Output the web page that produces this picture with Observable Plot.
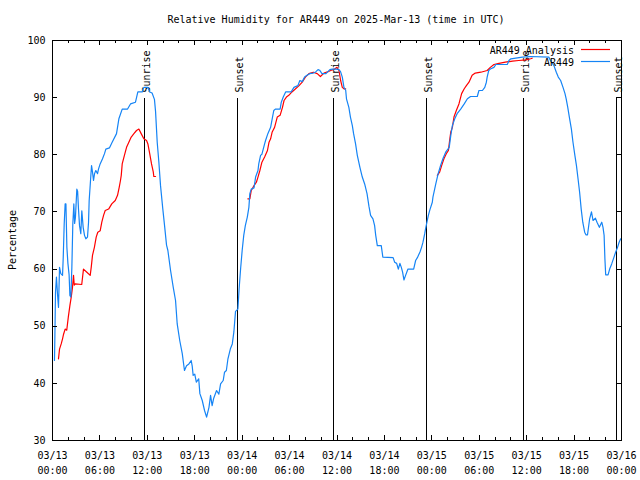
<!DOCTYPE html>
<html><head><meta charset="utf-8">
<script src="https://cdn.jsdelivr.net/npm/d3@7"></script>
<script src="https://cdn.jsdelivr.net/npm/@observablehq/plot@0.6"></script>
<style>body{margin:0;background:#fff} svg{display:block}</style>
</head><body><div id="chart"></div>
<script>
const title = "Relative Humidity for AR449 on 2025-Mar-13 (time in UTC)";
const yLabel = "Percentage";
const startUTC = "2025-03-13T00:00:00Z";
const endUTC = "2025-03-16T00:00:00Z";
const yTicks = [30, 40, 50, 60, 70, 80, 90, 100];
const seriesNames = ["AR449 Analysis", "AR449"];

// Observed AR449 (hours since 2025-03-13 00:00 UTC, %)
const obsHours = [0.25,0.3,0.38,0.5,0.63,0.76,0.89,1.05,1.27,1.36,1.48,1.6,1.7,1.82,1.95,2.1,2.2,2.32,2.45,2.57,2.7,2.8,2.9,3.08,3.18,3.29,3.42,3.58,3.71,3.88,4.05,4.22,4.43,4.56,4.64,4.81,4.94,5.06,5.19,5.32,5.48,5.7,5.82,6.03,6.33,6.58,6.75,7.2,7.55,8.1,8.4,8.82,9.5,9.87,10.5,10.8,11.35,11.56,12.07,12.3,12.6,12.9,13.04,13.25,13.46,13.67,13.96,14.18,14.43,14.6,14.94,15.28,15.57,15.78,16.1,16.42,16.7,16.96,17.26,17.55,17.68,17.8,18.0,18.2,18.5,18.65,18.95,19.24,19.5,19.8,20.0,20.2,20.4,20.76,21.05,21.27,21.6,21.77,22.0,22.2,22.5,22.75,22.95,23.16,23.46,23.6,23.8,24.0,24.2,24.4,24.65,24.85,24.97,25.15,25.5,25.7,26.0,26.1,26.33,26.5,26.84,26.96,27.25,27.6,27.8,28.0,28.2,28.8,28.95,29.2,29.5,30.2,30.55,31.05,31.3,31.6,31.9,32.2,32.55,33.0,33.3,33.6,33.8,34.1,34.6,35.1,35.4,35.95,36.25,36.46,36.67,36.88,37.1,37.2,37.5,37.7,37.94,38.1,38.35,38.57,38.9,39.2,39.5,39.8,40.04,40.25,40.55,40.76,40.9,41.1,41.6,41.8,43.1,43.3,43.55,43.76,43.96,44.14,44.3,44.47,44.68,44.98,45.7,45.95,46.17,46.5,46.7,46.88,47.1,47.2,47.38,47.56,47.76,48.06,48.14,48.5,48.8,49.1,49.4,49.75,50.2,50.4,50.6,50.9,51.2,51.65,52.1,52.5,52.9,53.75,53.96,54.4,54.7,54.9,55.0,55.2,55.4,55.86,56.1,57.55,57.76,58.0,59.45,60.5,62.8,63.0,63.45,63.75,64.0,64.3,64.6,64.85,65.0,65.2,65.4,65.66,65.86,66.1,66.3,66.5,66.7,66.9,67.1,67.34,67.5,67.7,67.97,68.2,68.4,68.7,68.9,69.2,69.5,69.66,69.8,69.9,70.0,70.3,70.5,70.76,71.05,71.27,71.5,71.7,71.9];
const obsValues = [44.0,48.1,55.9,58.6,55.7,53.3,60.3,59.2,58.9,62.1,67.9,71.4,71.4,63.8,61.0,59.0,55.4,55.1,60.3,67.9,71.4,68.0,69.0,74.0,73.6,70.5,67.6,66.2,70.2,67.3,65.9,65.3,65.6,68.2,72.0,75.5,78.1,77.0,75.5,76.7,77.25,76.7,77.5,78.4,79.3,80.2,81.0,81.2,82.2,83.7,86.3,88.0,88.0,88.9,89.2,91.0,91.0,91.8,91.8,91.0,90.8,89.7,87.6,82.2,78.7,74.6,70.5,67.6,64.2,63.25,59.75,56.8,54.5,50.4,47.5,45.2,42.25,43.1,43.4,44.0,43.0,41.4,41.6,40.2,40.8,38.2,37.0,35.25,34.1,35.8,37.9,36.1,37.4,38.75,38.1,39.9,40.5,41.95,42.25,44.3,46.0,46.9,49.0,52.6,53.0,56.25,60.0,63.25,65.9,67.6,69.1,70.8,73.2,74.0,74.2,76.1,77.25,78.4,79.9,80.1,81.9,82.5,83.7,84.8,86.3,87.75,88.0,88.0,89.2,90.1,91.0,91.0,91.8,92.1,93.0,92.8,93.6,93.9,94.2,94.3,94.5,94.9,94.8,94.2,94.2,94.9,95.0,95.0,94.9,94.5,93.6,91.8,91.3,89.8,88.3,86.6,85.1,83.7,81.9,79.9,77.8,76.1,74.9,73.2,71.0,69.4,68.8,67.6,65.9,64.1,64.1,62.1,62.0,61.2,61.0,60.0,61.0,60.3,59.45,58.1,58.9,60.0,60.0,61.5,62.0,63.0,63.8,64.7,66.2,67.0,68.2,69.4,70.4,71.7,72.6,74.9,76.7,78.1,79.3,80.45,81.3,83.4,85.1,86.3,87.2,88.0,88.9,89.8,90.2,90.2,91.25,91.25,91.8,92.7,93.6,94.75,95.0,95.3,95.8,95.8,96.5,96.8,97.1,97.2,97.1,96.5,95.6,94.45,93.6,93.0,91.8,90.7,89.8,88.3,86.6,84.5,82.2,79.9,78.1,75.8,73.45,70.5,68.2,66.45,66.0,66.0,68.8,70.0,68.5,68.9,68.2,67.3,68.2,67.3,65.9,61.8,59.0,59.0,60.0,60.9,62.1,63.0,63.8,64.7,65.3];

// AR449 Analysis (null = gap between runs)
const anaHours = [0.76,0.89,1.1,1.27,1.4,1.6,1.8,2.0,2.2,2.37,2.53,2.66,2.75,2.87,3.7,3.92,4.35,4.77,4.9,5.06,5.3,5.53,5.73,6.03,6.24,6.46,6.67,7.1,7.5,7.94,8.23,8.44,8.6,8.7,8.82,9.1,9.37,9.66,9.96,10.3,10.63,10.93,11.22,11.56,11.9,12.07,12.3,12.53,12.75,12.82,13.04,null,
  24.72,24.97,25.15,25.5,25.8,26.0,26.24,26.5,26.84,27.2,27.4,27.6,27.8,28.1,28.44,28.8,29.1,29.3,29.6,29.9,30.3,30.76,31.2,31.6,32.0,32.45,33.0,33.5,33.9,34.35,34.8,35.2,35.7,36.0,36.25,36.46,36.67,36.88,37.1,null,
  48.7,49.0,49.24,49.53,49.83,50.1,50.25,50.4,50.6,50.8,51.1,51.43,51.77,52.1,52.37,52.7,53.1,53.5,54.2,55.0,55.4,55.86,56.5,57.3,58.2,59.0,59.9,60.5,60.7];
const anaValues = [44.3,46.0,46.9,47.8,48.6,49.5,49.3,51.6,53.6,55.1,56.8,58.9,57.2,57.4,57.3,60.0,59.45,58.9,60.3,62.4,63.8,65.6,66.45,66.7,68.2,69.4,70.25,70.5,71.4,72.0,72.9,74.3,75.5,76.4,78.4,79.9,81.3,82.2,83.1,83.7,84.25,84.5,83.7,82.8,82.5,81.9,80.2,78.4,77.0,76.2,76.2,null,
  72.3,72.3,73.75,74.6,75.2,76.1,77.25,78.7,79.6,80.75,82.2,82.8,84.0,84.8,86.6,86.9,88.3,89.5,90.1,90.4,91.0,91.55,92.1,92.7,93.6,94.2,94.45,94.2,93.7,94.3,94.5,94.75,95.0,95.3,94.75,93.0,91.8,91.55,91.55,null,
  76.4,77.0,78.1,79.3,80.2,80.75,82.5,84.0,84.8,86.6,87.75,88.9,90.7,91.55,92.1,92.7,93.9,94.3,94.45,94.75,95.3,95.8,96.0,96.2,96.4,96.5,96.6,96.8,96.9];

const sunriseHours = [11.68, 35.6, 59.66];
const sunsetHours = [23.46, 47.38, 71.43];

const FONT = "DejaVu Sans Mono";
const RED = "#ff0000", BLUE = "#1584f5";

const t0 = Date.parse(startUTC);
const toDate = h => (h == null ? null : new Date(t0 + h * 3600e3));
const obs = obsHours.map((h, i) => ({t: toDate(h), v: obsValues[i]}));
const ana = anaHours.map((h, i) => ({t: toDate(h), v: anaValues[i]}));
const events = [
  ...sunriseHours.map(h => ({t: toDate(h), label: "Sunrise"})),
  ...sunsetHours.map(h => ({t: toDate(h), label: "Sunset"}))
];
const majorTicks = d3.utcHour.every(6).range(new Date(startUTC), new Date(Date.parse(endUTC) + 1));
const minorTicks = d3.utcHour.every(2).range(new Date(startUTC), new Date(Date.parse(endUTC) + 1))
  .filter(d => d.getUTCHours() % 6 !== 0);
const fmt = d => d3.utcFormat("%m/%d")(d) + "\n" + d3.utcFormat("%H:%M")(d);

const plot = Plot.plot({
  width: 640, height: 480,
  marginLeft: 52, marginRight: 19, marginTop: 40, marginBottom: 40,
  style: {fontFamily: FONT, fontSize: "10px", color: "#000", background: "#fff", overflow: "visible"},
  x: {type: "utc", domain: [new Date(startUTC), new Date(endUTC)]},
  y: {domain: [30, 100]},
  marks: [
    Plot.ruleX(events, {x: "t", y1: 30, y2: 89.8, stroke: "#000", strokeWidth: 1, shapeRendering: "crispEdges"}),
    Plot.text(events, {x: "t", y: 90.9, text: "label", rotate: -90, textAnchor: "start", lineAnchor: "middle", dx: 2, fill: "#000", fontSize: 10}),
    Plot.line(ana, {x: "t", y: "v", stroke: RED, strokeWidth: 1.2}),
    Plot.line(obs, {x: "t", y: "v", stroke: BLUE, strokeWidth: 1.2}),
    Plot.frame({stroke: "#000", strokeWidth: 1, shapeRendering: "crispEdges"}),
    Plot.axisY({ticks: yTicks, anchor: "left", tickSize: 0, tickPadding: 7, label: null, fontSize: 10}),
    Plot.axisX({ticks: majorTicks, anchor: "bottom", tickSize: 0, tickPadding: 8, tickFormat: fmt, lineHeight: 1.5, label: null, fontSize: 10})
  ]
});

const svg = d3.select(plot);
const xs = plot.scale("x"), ys = plot.scale("y");
const L = 52, R = 621, T = 40, B = 440;
const g = svg.append("g").attr("stroke", "#000").attr("stroke-width", 1).attr("shape-rendering", "crispEdges");
function tick(x1, y1, x2, y2) { g.append("line").attr("x1", x1).attr("y1", y1).attr("x2", x2).attr("y2", y2); }
majorTicks.forEach(d => { const x = Math.round(xs.apply(d)) + 0.5; tick(x, B, x, B - 5); tick(x, T, x, T + 5); });
minorTicks.forEach(d => { const x = Math.round(xs.apply(d)) + 0.5; tick(x, B, x, B - 3); tick(x, T, x, T + 3); });
yTicks.forEach(v => { const y = Math.round(ys.apply(v)) + 0.5; tick(L, y, L + 5, y); tick(R, y, R - 5, y); });

// title and y label
svg.append("text").attr("x", 336).attr("y", 23).attr("text-anchor", "middle")
  .attr("font-family", FONT).attr("font-size", 10).attr("fill", "#000").text(title);
svg.append("text").attr("transform", "translate(12,240) rotate(-90)").attr("text-anchor", "middle")
  .attr("dominant-baseline", "central").attr("font-family", FONT).attr("font-size", 10).attr("fill", "#000").text(yLabel);

// legend
const legend = svg.append("g").attr("font-family", FONT).attr("font-size", 10);
[[seriesNames[0], RED, 50], [seriesNames[1], BLUE, 62]].forEach(([name, color, y]) => {
  legend.append("text").attr("x", 574).attr("y", y).attr("text-anchor", "end").attr("dominant-baseline", "central").attr("fill", "#000").text(name);
  legend.append("line").attr("x1", 581).attr("x2", 610).attr("y1", y - 0.5).attr("y2", y - 0.5).attr("stroke", color).attr("stroke-width", 1.2);
});

document.getElementById("chart").appendChild(plot);
</script>
</body></html>
